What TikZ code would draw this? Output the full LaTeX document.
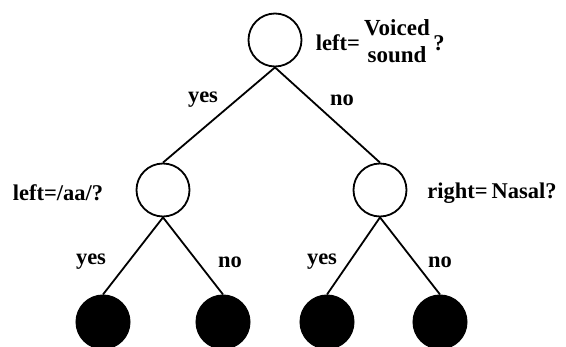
\documentclass[tikz,border=0pt]{standalone}
\usepackage{fontspec}
\setmainfont{Liberation Serif}
\begin{document}
\begin{tikzpicture}[x=1pt,y=-1pt,
  qnode/.style={circle,draw,line width=1.8pt,minimum size=53pt,inner sep=0pt},
  leaf/.style={circle,draw,fill=black,line width=1pt,minimum size=54pt,inner sep=0pt},
  edge/.style={line width=1.8pt},
  lbl/.style={font=\fontsize{22.5}{24}\selectfont\bfseries,inner sep=0pt}]
\useasboundingbox (0,0) rectangle (566,347);
\node[qnode] (r) at (275,40) {};
\node[qnode] (a) at (163,190) {};
\node[qnode] (b) at (380,190) {};
\node[leaf] (aa) at (103,322) {};
\node[leaf] (ab) at (223,322) {};
\node[leaf] (ba) at (327,322) {};
\node[leaf] (bb) at (440,322) {};
\draw[edge] (r.south) -- (a.north);
\draw[edge] (r.south) -- (b.north);
\draw[edge] (a.south) -- (aa.north);
\draw[edge] (a.south) -- (ab.north);
\draw[edge] (b.south) -- (ba.north);
\draw[edge] (b.south) -- (bb.north);
\node[lbl] (rq) at (338,43) {left=};
\node[lbl,align=center,font=\fontsize{23}{27}\selectfont\bfseries] (vs) at (397,41) {Voiced\\sound};
\node[lbl] (qm) at (439,43) {?};
\node[lbl] (y1) at (203,100) {yes};
\node[lbl] (n1) at (342,100) {no};
\node[lbl] (aq) at (58,193) {left=/aa/?};
\node[lbl] (bq) at (492,193) {right=\,Nasal?};
\node[lbl] (y2) at (91,262) {yes};
\node[lbl] (n2) at (230,262) {no};
\node[lbl] (y3) at (322,262) {yes};
\node[lbl] (n3) at (440,262) {no};
\end{tikzpicture}
\end{document}
